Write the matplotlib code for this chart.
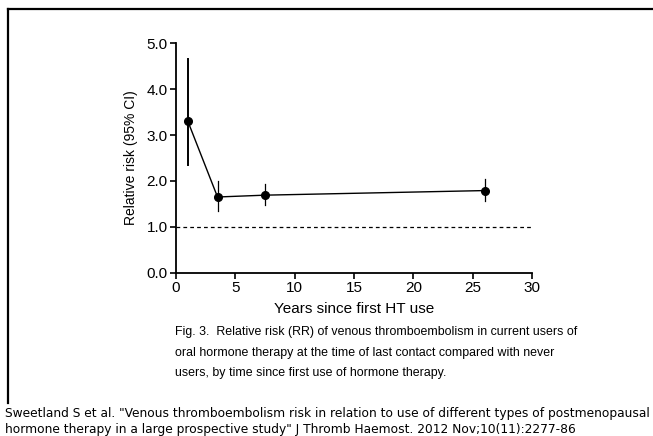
import matplotlib
matplotlib.use("Agg")
import matplotlib.pyplot as plt
from matplotlib.lines import Line2D

years = [1, 3.5, 7.5, 26]
rr = [3.30, 1.65, 1.69, 1.79]
ci_low = [2.35, 1.35, 1.48, 1.57]
ci_high = [4.65, 2.00, 1.93, 2.05]
yticks = [0.0, 1.0, 2.0, 3.0, 4.0, 5.0]
xticks = [0, 5, 10, 15, 20, 25, 30]

plt.rcParams['font.family'] = ['Liberation Sans', 'DejaVu Sans']

W, H = 653, 436
fig = plt.figure(figsize=(W/100, H/100), dpi=100)

def fx(px):
    return px / W

def fy(py):
    return 1 - py / H

ax = fig.add_axes([fx(176), fy(272.7), fx(532) - fx(176), fy(43.3) - fy(272.7)])

ax.plot(years, rr, color='black', lw=1.0, zorder=3)
ax.plot(years, rr, 'o', color='black', ms=5.5, zorder=4)
for i, (x, lo, hi) in enumerate(zip(years, ci_low, ci_high)):
    ax.plot([x, x], [lo, hi], color='black', lw=1.4 if i == 0 else 0.9, zorder=2)
ax.axhline(1.0, color='black', lw=0.9, ls=(0, (3, 2.5)), zorder=1)

ax.set_xlim(0, 30)
ax.set_ylim(0, 5)
ax.set_xticks(xticks)
ax.set_yticks(yticks)
ax.set_yticklabels([f"{v:.1f}" for v in yticks])
for s in ['top', 'right']:
    ax.spines[s].set_visible(False)
for s in ['left', 'bottom']:
    ax.spines[s].set_linewidth(1.3)
ax.tick_params(direction='out', length=4, width=1.2, labelsize=11, pad=2)
ax.set_ylabel("Relative risk (95% CI)", fontsize=10, labelpad=6)
ax.set_xlabel("Years since first HT use", fontsize=11, labelpad=5)

# border lines
fig.add_artist(Line2D([fx(7.5), 1], [fy(9.5), fy(9.5)], color='black', lw=1.6, transform=fig.transFigure))
fig.add_artist(Line2D([fx(8), fx(8)], [fy(9.5), fy(403)], color='black', lw=1.6, transform=fig.transFigure))

caption = ["Fig. 3.  Relative risk (RR) of venous thromboembolism in current users of",
           "oral hormone therapy at the time of last contact compared with never",
           "users, by time since first use of hormone therapy."]
for i, line in enumerate(caption):
    fig.text(fx(175), fy(332 + 20.5 * i), line, fontsize=8.9, ha='left', va='center')

foot_font = ['DejaVu Sans']
fig.text(fx(5), fy(413), 'Sweetland S et al. "Venous thromboembolism risk in relation to use of different types of postmenopausal',
         fontsize=8.8, ha='left', va='center', family=foot_font)
fig.text(fx(5), fy(429), 'hormone therapy in a large prospective study" J Thromb Haemost. 2012 Nov;10(11):2277-86',
         fontsize=8.8, ha='left', va='center', family=foot_font)

fig.savefig("out.png", dpi=100)
